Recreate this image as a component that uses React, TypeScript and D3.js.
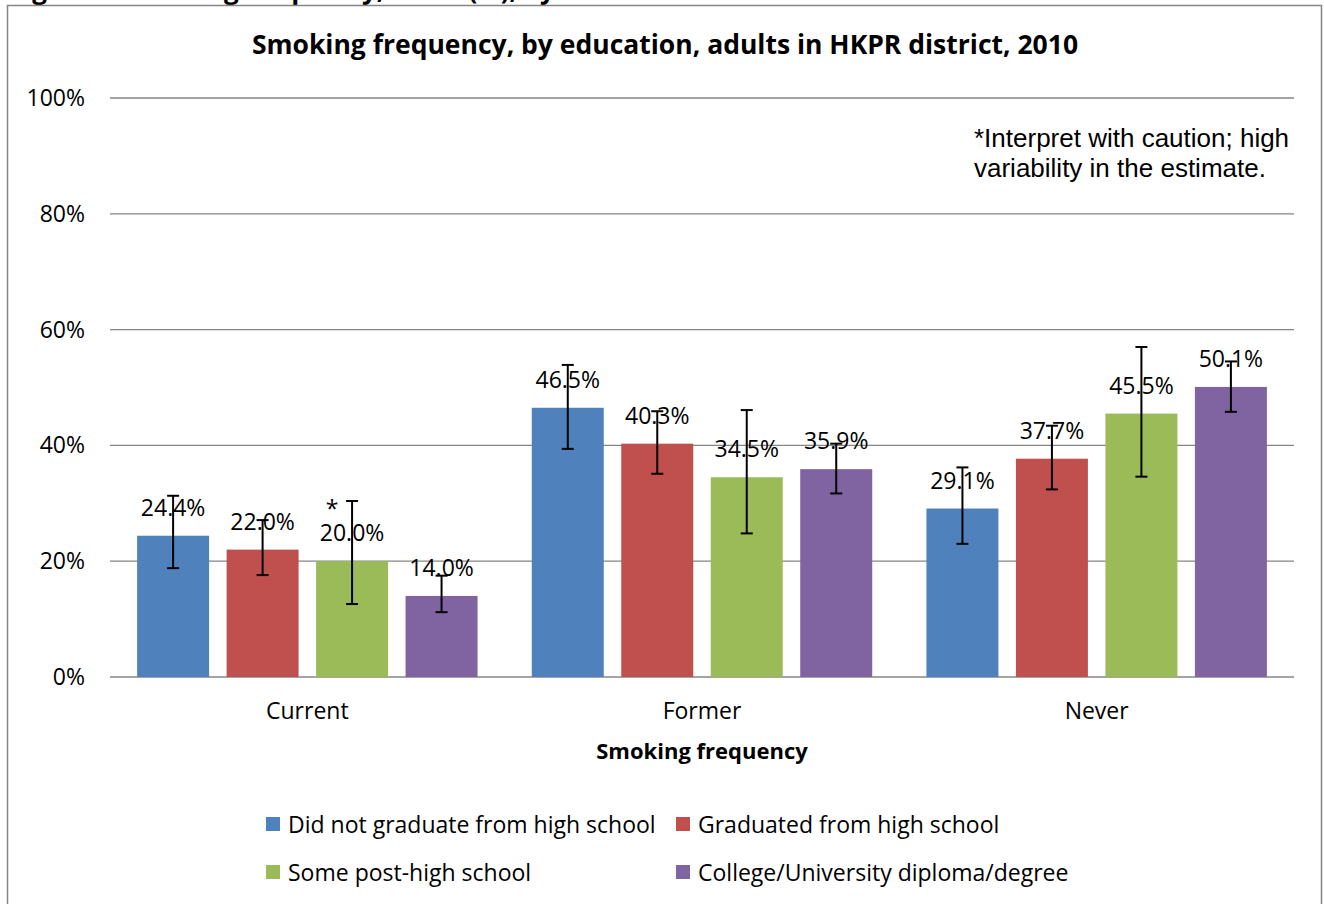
import React from 'react';
import * as d3 from 'd3';

const categories = ['Current', 'Former', 'Never'];
const seriesNames = [
  'Did not graduate from high school',
  'Graduated from high school',
  'Some post-high school',
  'College/University diploma/degree',
];
const seriesColors = ['#4F81BD', '#C0504D', '#9BBB59', '#8064A2'];
const values = [
  [24.4, 46.5, 29.1],
  [22.0, 40.3, 37.7],
  [20.0, 34.5, 45.5],
  [14.0, 35.9, 50.1],
];
const lowerCI = [
  [18.8, 39.4, 23.0],
  [17.6, 35.1, 32.4],
  [12.6, 24.8, 34.6],
  [11.2, 31.7, 45.8],
];
const upperCI = [
  [31.3, 53.9, 36.2],
  [27.1, 45.9, 43.4],
  [30.4, 46.1, 57.0],
  [17.5, 40.3, 54.5],
];
const flagged = [
  [false, false, false],
  [false, false, false],
  [true, false, false],
  [false, false, false],
];
const yTicks = [0, 20, 40, 60, 80, 100];

const FONT = '"Open Sans", Lato, sans-serif';

export default function App() {
  const left = 110, right = 1294, top = 98, bottom = 677;
  const x0 = d3.scaleBand<string>().domain(categories).range([left, right]).padding(0);
  const x1 = d3
    .scaleBand<number>()
    .domain(d3.range(seriesNames.length))
    .range([0, x0.bandwidth()])
    .paddingInner(0.1955)
    .paddingOuter(0.303);
  const y = d3.scaleLinear().domain([0, 100]).range([bottom, top]);
  const fmt = (v: number) => d3.format('.1f')(v) + '%';
  const capHalf = 6;

  return (
    <svg
      width={1324}
      height={904}
      style={{ position: 'absolute', left: 0, top: 0, background: '#fff' }}
    >
      <text x={10} y={-1} fontFamily={FONT} fontWeight="bold" fontSize={26} fill="#000">
        Figure 5: Smoking frequency, HKPR (%), by education
      </text>
      <rect x={7.5} y={5.5} width={1314} height={920} fill="#fff" stroke="#868686" strokeWidth={1.5} />
      <text x={665} y={54} textAnchor="middle" fontFamily={FONT} fontWeight="bold" fontSize={26.5}>
        Smoking frequency, by education, adults in HKPR district, 2010
      </text>
      {yTicks.map((t) => (
        <g key={t}>
          <line x1={left} x2={right} y1={y(t)} y2={y(t)} stroke="#868686" strokeWidth={1.3} />
          <text x={85} y={y(t) + 8} textAnchor="end" fontFamily={FONT} fontSize={23}>
            {t}%
          </text>
        </g>
      ))}
      {categories.map((c, ci) => (
        <g key={c} transform={`translate(${x0(c)},0)`}>
          {seriesNames.map((s, si) => {
            const v = values[si][ci];
            const bx = x1(si)!;
            const cx = bx + x1.bandwidth() / 2;
            return (
              <g key={s}>
                <rect x={bx} y={y(v)} width={x1.bandwidth()} height={y(0) - y(v)} fill={seriesColors[si]} />
                <text x={cx} y={y(v) - 20} textAnchor="middle" fontFamily={FONT} fontSize={23}>
                  {fmt(v)}
                </text>
                {flagged[si][ci] && (
                  <text x={cx - 20} y={y(v) - 44} textAnchor="middle" fontFamily={FONT} fontSize={23}>
                    *
                  </text>
                )}
                <line x1={cx} x2={cx} y1={y(lowerCI[si][ci])} y2={y(upperCI[si][ci])} stroke="#000" strokeWidth={2} />
                <line x1={cx - capHalf} x2={cx + capHalf} y1={y(lowerCI[si][ci])} y2={y(lowerCI[si][ci])} stroke="#000" strokeWidth={2} />
                <line x1={cx - capHalf} x2={cx + capHalf} y1={y(upperCI[si][ci])} y2={y(upperCI[si][ci])} stroke="#000" strokeWidth={2} />
              </g>
            );
          })}
          <text x={x0.bandwidth() / 2} y={719} textAnchor="middle" fontFamily={FONT} fontSize={23}>
            {c}
          </text>
        </g>
      ))}
      <text x={702} y={759} textAnchor="middle" fontFamily={FONT} fontWeight="bold" fontSize={22}>
        Smoking frequency
      </text>
      <text fontFamily='"Liberation Sans", Arial, sans-serif' fontSize={26}>
        <tspan x={974} y={147}>*Interpret with caution; high</tspan>
        <tspan x={974} y={177}>variability in the estimate.</tspan>
      </text>
      {seriesNames.map((s, i) => {
        const col = i % 2;
        const row = Math.floor(i / 2);
        const lx = col === 0 ? 266 : 676;
        const ly = row === 0 ? 824 : 872;
        return (
          <g key={s}>
            <rect x={lx} y={ly - 7} width={14} height={14} fill={seriesColors[i]} />
            <text x={lx + 22} y={ly + 8.5} fontFamily={FONT} fontSize={23}>
              {s}
            </text>
          </g>
        );
      })}
    </svg>
  );
}
